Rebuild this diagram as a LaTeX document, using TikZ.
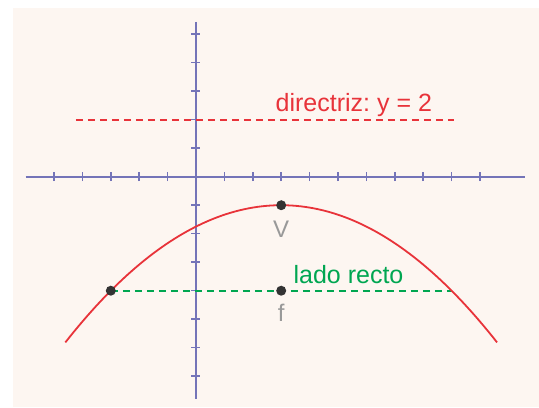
\documentclass[tikz,border=0pt]{standalone}
\usepackage{fontspec}
\setmainfont{Liberation Sans}
\usetikzlibrary{positioning}
\definecolor{papel}{HTML}{FDF6F1}
\definecolor{ejes}{RGB}{116,116,184}
\definecolor{rojo}{HTML}{E8333A}
\definecolor{verde}{HTML}{00A651}
\definecolor{punto}{HTML}{333333}
\definecolor{gris}{HTML}{999999}
\tikzset{
  eje/.style={ejes, line width=2.2bp},
  marca/.style={ejes, line width=1.5bp},
  guion/.style={line width=1.8bp, dash pattern=on 7bp off 5bp},
  pto/.style={circle, fill=punto, inner sep=0pt, minimum size=10bp},
  etiq/.style={gris, font=\fontsize{24bp}{28bp}\selectfont, anchor=base, inner sep=0pt},
  texto/.style={font=\fontsize{25bp}{30bp}\selectfont, anchor=base west, inner sep=0pt}
}
\frenchspacing
\begin{document}
\begin{tikzpicture}[x=28.4bp,y=28.5bp]

\useasboundingbox (-6.901,-8.081) rectangle (12.077,6.2);
\fill[papel] (-6.444,-8.081) rectangle (12.077,5.919);

% ejes
\draw[eje] (-6,0)--(11.6,0);
\draw[eje] (0,5.43)--(0,-7.8);
\foreach \i in {-5,...,-1,1,2,...,10}
  \draw[marca] (\i,0)++(0,-4.5bp)--++(0,9bp);
\foreach \j in {-7,...,-1,1,2,...,5}
  \draw[marca] (0,\j)++(-4.5bp,0)--++(9bp,0);

\coordinate (D1) at (-4.23,2);
\coordinate (D2) at (9.1,2);
\coordinate (V) at (3,-1);
\coordinate (F) at (3,-4);
\coordinate (L) at (-3,-4);
\coordinate (R) at (9,-4);

% directriz
\draw[guion, rojo] (D1)--(D2);
\node[texto, rojo] (dir) at (2.8,2.28) {directriz: y = 2};

% lado recto
\draw[guion, verde] (L)--(R);
\node[texto, verde] (lado) at (3.43,-3.74) {lado recto};

% parabola
\draw[rojo, line width=1.8bp] plot[domain=-4.6:10.6, samples=100] (\x,{-1-(\x-3)^2/12});

\node[pto] (ptV) at (V) {};
\node[pto] (ptF) at (F) {};
\node[pto] (ptL) at (L) {};

\node[etiq] (labV) at (3,-2.13) {V};
\node[etiq] (labF) at (3,-5.09) {f};

\end{tikzpicture}
\end{document}
